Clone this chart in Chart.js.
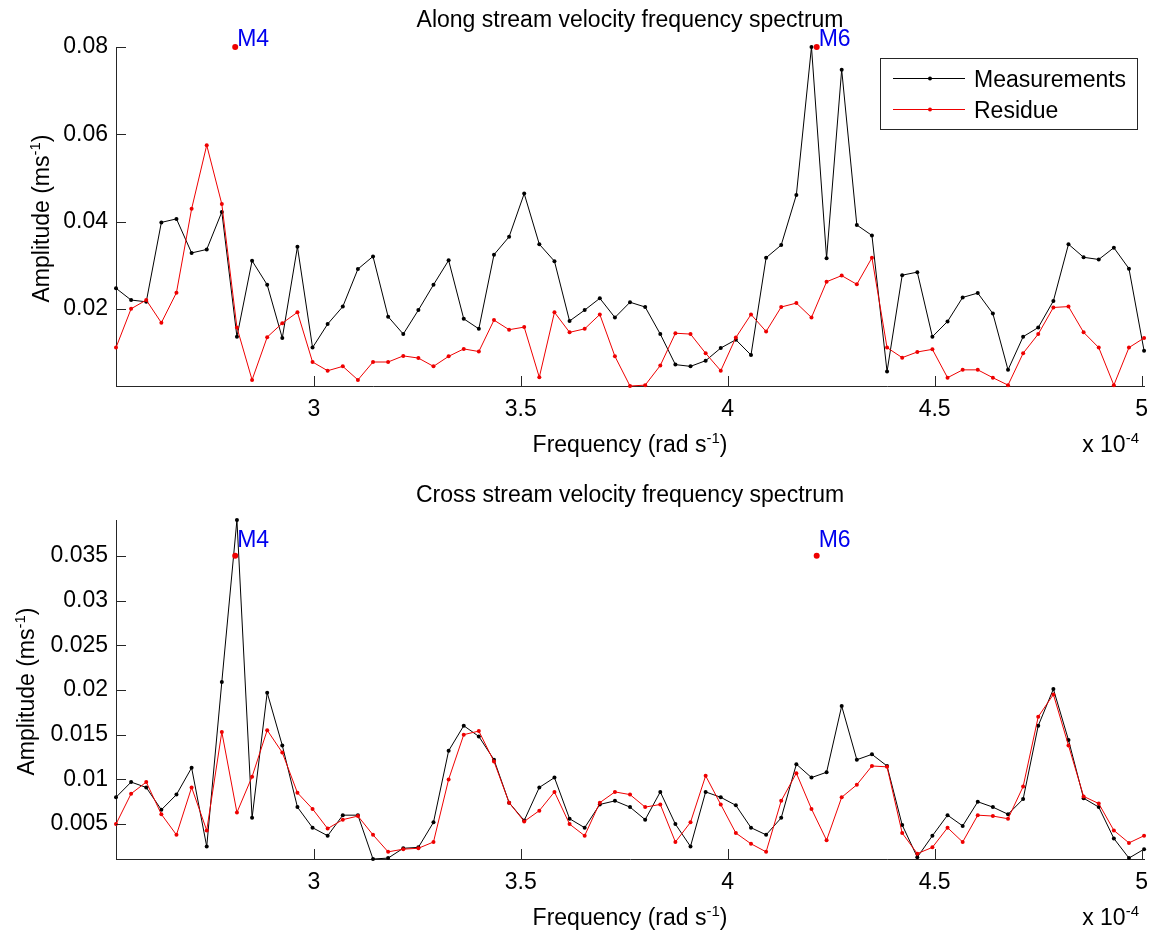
<!DOCTYPE html>
<html>
<head>
<meta charset="utf-8">
<title>Velocity frequency spectra</title>
<script src="https://cdn.jsdelivr.net/npm/chart.js@4.4.0/dist/chart.umd.min.js"></script>
<style>
  html, body { margin: 0; padding: 0; background: #ffffff; }
  #wrap { position: relative; width: 1158px; height: 935px; overflow: hidden; background: #ffffff; }
  #wrap canvas { position: absolute; left: 0; }
</style>
</head>
<body>
<div id="wrap">
  <canvas id="along" width="1158" height="468" style="top:0px"></canvas>
  <canvas id="cross" width="1158" height="467" style="top:468px"></canvas>
</div>
<script>
// ---- data (frequency in units of 1e-4 rad/s, amplitude in m/s) ----
const freq = [
  2.5220, 2.5585, 2.5951, 2.6316, 2.6681, 2.7047, 2.7412, 2.7777, 2.8142, 2.8508,
  2.8873, 2.9238, 2.9604, 2.9969, 3.0334, 3.0700, 3.1065, 3.1430, 3.1795, 3.2161,
  3.2526, 3.2891, 3.3257, 3.3622, 3.3987, 3.4353, 3.4718, 3.5083, 3.5448, 3.5814,
  3.6179, 3.6544, 3.6910, 3.7275, 3.7640, 3.8006, 3.8371, 3.8736, 3.9101, 3.9467,
  3.9832, 4.0197, 4.0563, 4.0928, 4.1293, 4.1659, 4.2024, 4.2389, 4.2754, 4.3120,
  4.3485, 4.3850, 4.4216, 4.4581, 4.4946, 4.5312, 4.5677, 4.6042, 4.6407, 4.6773,
  4.7138, 4.7503, 4.7869, 4.8234, 4.8599, 4.8965, 4.9330, 4.9695, 5.0060
];

const alongMeasured = [
  0.0247, 0.0220, 0.0216, 0.0398, 0.0406, 0.0328, 0.0336, 0.0422, 0.0136, 0.0310,
  0.0255, 0.0133, 0.0342, 0.0111, 0.0165, 0.0205, 0.0291, 0.0320, 0.0182, 0.0142,
  0.0197, 0.0255, 0.0311, 0.0177, 0.0154, 0.0324, 0.0365, 0.0464, 0.0348, 0.0309,
  0.0172, 0.0197, 0.0224, 0.0180, 0.0215, 0.0204, 0.0142, 0.0072, 0.0068, 0.0081,
  0.0110, 0.0129, 0.0094, 0.0317, 0.0346, 0.0461, 0.0800, 0.0316, 0.0748, 0.0392,
  0.0368, 0.0056, 0.0277, 0.0284, 0.0136, 0.0171, 0.0226, 0.0236, 0.0189, 0.0060,
  0.0136, 0.0157, 0.0218, 0.0348, 0.0318, 0.0313, 0.0340, 0.0292, 0.0104
];

const alongResidue = [
  0.0111, 0.0200, 0.0220, 0.0168, 0.0237, 0.0429, 0.0575, 0.0440, 0.0157, 0.0037,
  0.0135, 0.0167, 0.0192, 0.0078, 0.0058, 0.0068, 0.0037, 0.0078, 0.0078, 0.0092,
  0.0087, 0.0068, 0.0091, 0.0108, 0.0102, 0.0174, 0.0152, 0.0158, 0.0043, 0.0192,
  0.0146, 0.0154, 0.0187, 0.0091, 0.0023, 0.0025, 0.0070, 0.0144, 0.0142, 0.0098,
  0.0058, 0.0134, 0.0187, 0.0148, 0.0204, 0.0213, 0.0180, 0.0262, 0.0276, 0.0256,
  0.0317, 0.0111, 0.0088, 0.0101, 0.0107, 0.0042, 0.0060, 0.0060, 0.0042, 0.0025,
  0.0098, 0.0142, 0.0203, 0.0205, 0.0146, 0.0111, 0.0025, 0.0111, 0.0133
];

const crossMeasured = [
  0.0080, 0.0097, 0.0091, 0.0066, 0.0083, 0.0113, 0.0025, 0.0209, 0.0390, 0.0057,
  0.0197, 0.0138, 0.0069, 0.0046, 0.0037, 0.0060, 0.0060, 0.0011, 0.0012, 0.0023,
  0.0024, 0.0052, 0.0132, 0.0160, 0.0148, 0.0122, 0.0074, 0.0054, 0.0091, 0.0102,
  0.0056, 0.0046, 0.0072, 0.0076, 0.0069, 0.0055, 0.0086, 0.0050, 0.0025, 0.0086,
  0.0080, 0.0071, 0.0046, 0.0038, 0.0057, 0.0117, 0.0102, 0.0108, 0.0182, 0.0122,
  0.0128, 0.0115, 0.0049, 0.0013, 0.0037, 0.0060, 0.0048, 0.0075, 0.0069, 0.0061,
  0.0078, 0.0160, 0.0201, 0.0144, 0.0079, 0.0069, 0.0034, 0.0012, 0.0022
];

const crossResidue = [
  0.0050, 0.0084, 0.0097, 0.0061, 0.0038, 0.0091, 0.0043, 0.0153, 0.0063, 0.0103,
  0.0155, 0.0130, 0.0085, 0.0067, 0.0045, 0.0055, 0.0059, 0.0038, 0.0019, 0.0022,
  0.0023, 0.0030, 0.0100, 0.0150, 0.0154, 0.0120, 0.0074, 0.0053, 0.0065, 0.0086,
  0.0050, 0.0037, 0.0074, 0.0086, 0.0083, 0.0069, 0.0072, 0.0030, 0.0052, 0.0104,
  0.0072, 0.0040, 0.0028, 0.0019, 0.0076, 0.0107, 0.0067, 0.0032, 0.0080, 0.0094,
  0.0115, 0.0114, 0.0040, 0.0017, 0.0024, 0.0046, 0.0030, 0.0060, 0.0059, 0.0056,
  0.0092, 0.0170, 0.0195, 0.0138, 0.0081, 0.0073, 0.0043, 0.0029, 0.0037
];

// tidal harmonics marked on both spectra
const harmonicNames = ['M4', 'M6'];
const harmonicFreq = [2.810, 4.215];
const alongMarkLevel = 0.08;
const crossMarkLevel = 0.035;

// tick labels
const freqTicks = [3, 3.5, 4, 4.5, 5];
const alongTicks = [0.02, 0.04, 0.06, 0.08];
const crossTicks = [0.005, 0.01, 0.015, 0.02, 0.025, 0.03, 0.035];

const seriesNames = ['Measurements', 'Residue'];

// ---- styling ----
const FONT = '"Liberation Sans", Arial, Helvetica, sans-serif';
const FS = 23;
const SUP_FS = 15;
const SUP_RISE = 9;
const MEAS_COLOR = '#000000';
const RESID_COLOR = '#ee0000';
const LABEL_BLUE = '#0000ee';
const AXIS_COLOR = '#262626';
const TICK_LEN = 10;
const PLOT_LEFT = 116;
const PLOT_RIGHT = 1147;

Chart.defaults.font.family = FONT;
Chart.defaults.font.size = FS;
Chart.defaults.color = '#000000';

function mainFont() { return FS + 'px ' + FONT; }
function supFont() { return SUP_FS + 'px ' + FONT; }

// text with a raised exponent: base^sup tail
function drawSupText(ctx, base, sup, tail, x, y, align) {
  ctx.font = mainFont();
  const w0 = ctx.measureText(base).width;
  const w2 = ctx.measureText(tail).width;
  ctx.font = supFont();
  const w1 = ctx.measureText(sup).width;
  const total = w0 + w1 + w2;
  let x0 = x;
  if (align === 'center') x0 = x - total / 2;
  else if (align === 'right') x0 = x - total;
  ctx.textAlign = 'left';
  ctx.textBaseline = 'alphabetic';
  ctx.font = mainFont();
  ctx.fillText(base, x0, y);
  ctx.font = supFont();
  ctx.fillText(sup, x0 + w0, y - SUP_RISE);
  ctx.font = mainFont();
  ctx.fillText(tail, x0 + w0 + w1, y);
}

function framePlugin(cfg) {
  return {
    id: 'frame_' + cfg.id,
    afterDraw(chart) {
      const ctx = chart.ctx;
      const xs = chart.scales.x;
      const ys = chart.scales.y;
      const a = chart.chartArea;
      ctx.save();

      // inward tick marks
      ctx.strokeStyle = AXIS_COLOR;
      ctx.lineWidth = 1;
      ctx.beginPath();
      xs.ticks.forEach(t => {
        const px = Math.round(xs.getPixelForValue(t.value)) + 0.5;
        ctx.moveTo(px, a.bottom);
        ctx.lineTo(px, a.bottom - TICK_LEN);
      });
      ys.ticks.forEach(t => {
        const py = Math.round(ys.getPixelForValue(t.value)) + 0.5;
        ctx.moveTo(a.left, py);
        ctx.lineTo(a.left + TICK_LEN, py);
      });
      ctx.stroke();

      // title
      ctx.fillStyle = '#000000';
      ctx.font = mainFont();
      ctx.textAlign = 'center';
      ctx.textBaseline = 'alphabetic';
      ctx.fillText(cfg.title, (a.left + a.right) / 2, cfg.titleBaseline);

      // axis labels
      drawSupText(ctx, 'Frequency (rad s', '-1', ')', (a.left + a.right) / 2, cfg.xlabelBaseline, 'center');
      drawSupText(ctx, 'x 10', '-4', '', cfg.exponentRight, cfg.xlabelBaseline, 'right');

      ctx.save();
      ctx.translate(cfg.ylabelBaselineX, (a.top + a.bottom) / 2 + 2);
      ctx.rotate(-Math.PI / 2);
      drawSupText(ctx, 'Amplitude (ms', '-1', ')', 0, 0, 'center');
      ctx.restore();

      // harmonic labels next to their markers
      ctx.fillStyle = LABEL_BLUE;
      ctx.font = mainFont();
      ctx.textAlign = 'left';
      ctx.textBaseline = 'alphabetic';
      harmonicNames.forEach((name, i) => {
        const px = xs.getPixelForValue(harmonicFreq[i]);
        const py = ys.getPixelForValue(cfg.markLevel);
        ctx.fillText(name, px + 2, py + cfg.labelDy);
      });

      // legend box
      if (cfg.legend) {
        const L = cfg.legend;
        ctx.fillStyle = '#ffffff';
        ctx.fillRect(L.x, L.y, L.w, L.h);
        ctx.strokeStyle = AXIS_COLOR;
        ctx.lineWidth = 1;
        ctx.strokeRect(L.x + 0.5, L.y + 0.5, L.w, L.h);
        const colors = [MEAS_COLOR, RESID_COLOR];
        seriesNames.forEach((name, i) => {
          const cy = L.y + L.row0 + i * L.rowGap;
          ctx.strokeStyle = colors[i];
          ctx.beginPath();
          ctx.moveTo(L.x + 13, cy + 0.5);
          ctx.lineTo(L.x + 85, cy + 0.5);
          ctx.stroke();
          ctx.fillStyle = colors[i];
          ctx.beginPath();
          ctx.arc(L.x + 50, cy + 0.5, 2, 0, Math.PI * 2);
          ctx.fill();
          ctx.fillStyle = '#000000';
          ctx.font = mainFont();
          ctx.textAlign = 'left';
          ctx.textBaseline = 'alphabetic';
          ctx.fillText(name, L.x + 94, cy + 8.5);
        });
      }
      ctx.restore();
    }
  };
}

function makePanel(cfg) {
  const canvas = document.getElementById(cfg.id);
  const H = canvas.height;
  const all = cfg.measured.concat(cfg.residue, [cfg.markLevel]);
  const yMin = Math.min.apply(null, all);
  const yMax = Math.max.apply(null, all);

  const line = (values, color, order) => ({
    data: freq.map((f, i) => ({ x: f, y: values[i] })),
    borderColor: color,
    backgroundColor: color,
    borderWidth: 1,
    pointRadius: 2,
    pointBorderWidth: 0,
    pointBackgroundColor: color,
    tension: 0,
    order: order,
    clip: false
  });

  return new Chart(canvas, {
    type: 'line',
    data: {
      datasets: [
        Object.assign(line(cfg.measured, MEAS_COLOR, 2), { label: seriesNames[0] }),
        Object.assign(line(cfg.residue, RESID_COLOR, 1), { label: seriesNames[1] }),
        {
          label: 'harmonics',
          data: harmonicFreq.map(f => ({ x: f, y: cfg.markLevel })),
          showLine: false,
          pointRadius: 3,
          pointBorderWidth: 0,
          pointBackgroundColor: RESID_COLOR,
          order: 0,
          clip: false
        }
      ]
    },
    options: {
      responsive: false,
      animation: false,
      events: [],
      layout: { padding: { top: cfg.areaTop, left: 0, right: 1158 - PLOT_RIGHT, bottom: 0 } },
      plugins: { legend: { display: false }, title: { display: false }, tooltip: { enabled: false } },
      scales: {
        x: {
          type: 'linear',
          min: freq[0],
          max: freq[freq.length - 1],
          grid: { display: true, drawOnChartArea: false, drawTicks: false },
          border: { display: true, color: AXIS_COLOR, width: 1 },
          ticks: { padding: 10, maxRotation: 0, autoSkip: false, color: '#000000',
                   font: { size: FS }, callback: v => String(v) },
          afterBuildTicks: s => { s.ticks = freqTicks.map(v => ({ value: v })); },
          afterFit: s => { s.height = H - cfg.areaBottom; }
        },
        y: {
          type: 'linear',
          min: yMin,
          max: yMax,
          grid: { display: true, drawOnChartArea: false, drawTicks: false },
          border: { display: true, color: AXIS_COLOR, width: 1 },
          ticks: { padding: 8, autoSkip: false, color: '#000000', font: { size: FS },
                   callback: v => String(Number(v.toFixed(4))) },
          afterBuildTicks: s => { s.ticks = cfg.yTicks.map(v => ({ value: v })); },
          afterFit: s => { s.width = PLOT_LEFT; }
        }
      }
    },
    plugins: [framePlugin(cfg)]
  });
}

makePanel({
  id: 'along',
  title: 'Along stream velocity frequency spectrum',
  measured: alongMeasured,
  residue: alongResidue,
  markLevel: alongMarkLevel,
  yTicks: alongTicks,
  areaTop: 47,
  areaBottom: 386,
  titleBaseline: 27,
  xlabelBaseline: 452,
  exponentRight: 1139,
  ylabelBaselineX: 48.5,
  labelDy: -1,
  legend: { x: 880, y: 58, w: 257, h: 71, row0: 20, rowGap: 31 }
});

makePanel({
  id: 'cross',
  title: 'Cross stream velocity frequency spectrum',
  measured: crossMeasured,
  residue: crossResidue,
  markLevel: crossMarkLevel,
  yTicks: crossTicks,
  areaTop: 52,
  areaBottom: 391,
  titleBaseline: 34,
  xlabelBaseline: 457,
  exponentRight: 1139,
  ylabelBaselineX: 33.5,
  labelDy: -9,
  legend: null
});
</script>
</body>
</html>
